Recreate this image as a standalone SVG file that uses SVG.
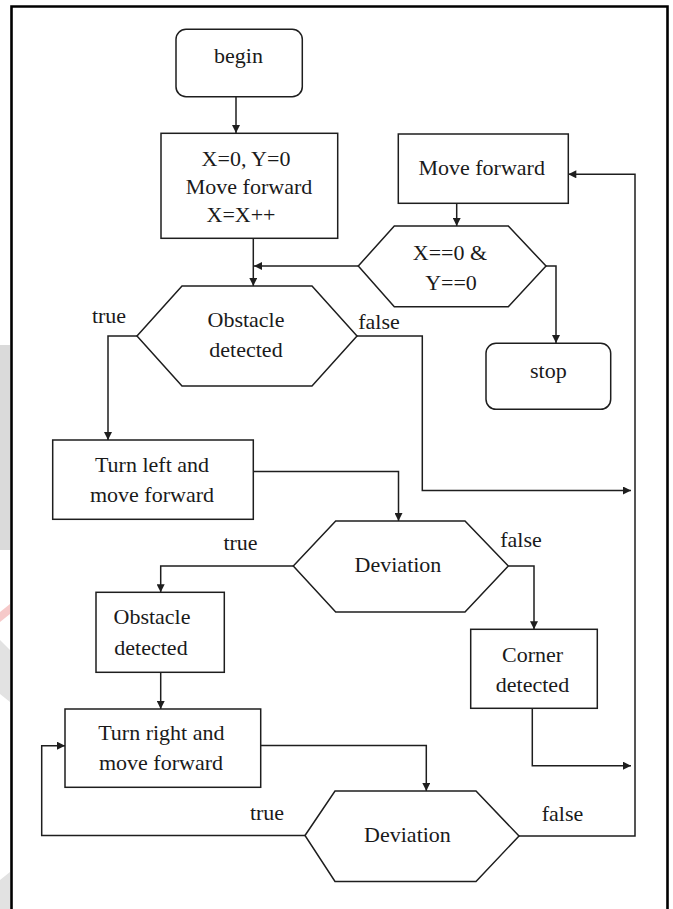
<svg xmlns="http://www.w3.org/2000/svg" width="673" height="909" viewBox="0 0 673 909">
<style>
.shape{fill:#fff;stroke:#1e1e1e;stroke-width:1.5}
.conn{fill:none;stroke:#1e1e1e;stroke-width:1.5}
text{font-family:"Liberation Serif","Times New Roman",serif;font-size:22px;fill:#1a1a1a;text-anchor:middle}
</style>
<defs>
<marker id="arr" viewBox="0 0 10 10" refX="10" refY="5" markerWidth="9" markerHeight="8" markerUnits="userSpaceOnUse" orient="auto">
<path d="M0,0 L10,5 L0,10 Z" fill="#1e1e1e"/>
</marker>
</defs>
<rect width="673" height="909" fill="#fff"/>
<g id="watermark">
<rect x="0" y="345" width="10" height="205" fill="#dadada"/>
<polygon points="0,612 10,604 10,614 0,622" fill="#f6c9c9"/>
<polygon points="0,640 10,650 10,702 0,694" fill="#e2e2e2"/>
<polygon points="0,880 10,872 10,909 0,909" fill="#e2e2e2"/>
</g>
<path d="M11.5,909 V6.5 H667.5 V909" fill="none" stroke="#000" stroke-width="2.6"/>
<g id="connectors">
<path class="conn" d="M236,97 V133" marker-end="url(#arr)"/>
<path class="conn" d="M253.3,238.5 V286" marker-end="url(#arr)"/>
<path class="conn" d="M358,266 H254" marker-end="url(#arr)"/>
<path class="conn" d="M456.7,203.5 V226" marker-end="url(#arr)"/>
<path class="conn" d="M546,266 H556 V343" marker-end="url(#arr)"/>
<path class="conn" d="M137,336 H108 V440" marker-end="url(#arr)"/>
<path class="conn" d="M357,336 H422.3 V490.5 H631" marker-end="url(#arr)"/>
<path class="conn" d="M253.3,471.5 H398.5 V521" marker-end="url(#arr)"/>
<path class="conn" d="M293.5,566 H160.7 V592.3" marker-end="url(#arr)"/>
<path class="conn" d="M508.3,566 H534 V629.3" marker-end="url(#arr)"/>
<path class="conn" d="M160.7,672.3 V709" marker-end="url(#arr)"/>
<path class="conn" d="M260.7,745.5 H426.3 V791" marker-end="url(#arr)"/>
<path class="conn" d="M305,835.5 H41.7 V745.7 H65" marker-end="url(#arr)"/>
<path class="conn" d="M519,836 H635 V174.3 H568.3" marker-end="url(#arr)"/>
<path class="conn" d="M532.3,708.3 V765.7 H631" marker-end="url(#arr)"/>
</g>
<g id="labels">
<text x="109" y="323">true</text>
<text x="379" y="329">false</text>
<text x="240.5" y="550">true</text>
<text x="521" y="547">false</text>
<text x="267" y="820">true</text>
<text x="562.5" y="821">false</text>
</g>
<g id="begin">
<rect class="shape" x="176" y="29.3" width="126.3" height="67.4" rx="10"/>
<text x="238.5" y="63">begin</text>
</g>
<g id="init">
<rect class="shape" x="161" y="133.3" width="176.7" height="105"/>
<text x="246" y="166">X=0, Y=0</text>
<text x="249" y="194">Move forward</text>
<text x="241" y="222">X=X++</text>
</g>
<g id="move-forward">
<rect class="shape" x="398.3" y="134" width="170" height="69.3"/>
<text x="481.7" y="175">Move forward</text>
</g>
<g id="check-origin">
<polygon class="shape" points="358.3,266 394.3,226 508.3,226 546,266 508.3,306.7 394.3,306.7"/>
<text x="450" y="260">X==0 &amp;</text>
<text x="451" y="290">Y==0</text>
</g>
<g id="stop">
<rect class="shape" x="486" y="343.3" width="124.7" height="66" rx="10"/>
<text x="548.3" y="378.3">stop</text>
</g>
<g id="obstacle-detected-1">
<polygon class="shape" points="137,336 182,286 312,286 357,336 312,386 182,386"/>
<text x="246" y="327">Obstacle</text>
<text x="246" y="357">detected</text>
</g>
<g id="turn-left">
<rect class="shape" x="52.7" y="440" width="200.6" height="79.3"/>
<text x="152" y="471.7">Turn left and</text>
<text x="152" y="501.7">move forward</text>
</g>
<g id="deviation-1">
<polygon class="shape" points="293.3,566 335.7,521 465,521 508.3,566 465,612 335.7,612"/>
<text x="398" y="572">Deviation</text>
</g>
<g id="obstacle-detected-2">
<rect class="shape" x="96" y="592.3" width="128.3" height="80"/>
<text x="152" y="624.3">Obstacle</text>
<text x="151" y="655">detected</text>
</g>
<g id="corner-detected">
<rect class="shape" x="470.7" y="629.3" width="126.6" height="79"/>
<text x="532.5" y="661.7">Corner</text>
<text x="532.5" y="691.7">detected</text>
</g>
<g id="turn-right">
<rect class="shape" x="65" y="709" width="195.7" height="78.3"/>
<text x="161.3" y="740">Turn right and</text>
<text x="161" y="770">move forward</text>
</g>
<g id="deviation-2">
<polygon class="shape" points="305,835.5 335,791 476,791 519,836 476,881.5 335,881.5"/>
<text x="407.5" y="842">Deviation</text>
</g>
</svg>
